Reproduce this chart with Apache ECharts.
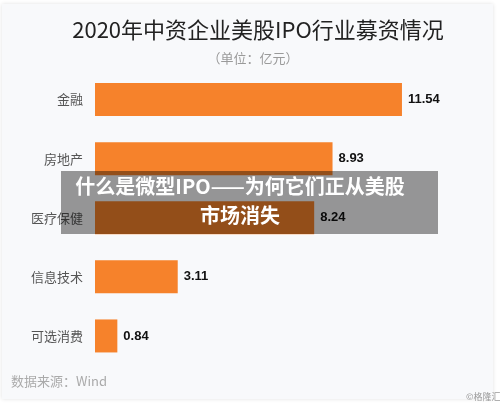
<!DOCTYPE html>
<html><head><meta charset="utf-8">
<script src="https://cdn.jsdelivr.net/npm/echarts@6/dist/echarts.min.js"></script>
<style>html,body{margin:0;padding:0;background:#fff}#c{width:500px;height:406px}</style>
</head><body><div id="c"></div>
<script>
const categories = ['金融', '房地产', '医疗保健', '信息技术', '可选消费'];
const values = [11.54, 8.93, 8.24, 3.11, 0.84];
const titleText = '2020年中资企业美股IPO行业募资情况';
const unitText = '（单位：亿元）';
const sourceText = '数据来源：Wind';
const bannerLines = ['什么是微型IPO——为何它们正从美股', '市场消失'];

const chart = echarts.init(document.getElementById('c'), null, {renderer: 'canvas'});
chart.setOption({
  backgroundColor: '#ffffff',
  animation: false,
  graphic: [
    {type: 'rect', z: -10, shape: {x: 2, y: 4, width: 491, height: 395},
     style: {fill: '#f8f9fb', shadowBlur: 4, shadowColor: 'rgba(0,0,0,0.12)'}},
    {type: 'text', x: 258, y: 30, z: 10,
     style: {text: titleText, font: '22px "Noto Sans CJK SC"', fill: '#222', align: 'center', verticalAlign: 'middle'}},
    {type: 'text', x: 253, y: 58, z: 10,
     style: {text: unitText, font: '13px "Noto Sans CJK SC"', fill: '#9a9a9a', align: 'center', verticalAlign: 'middle'}},
    {type: 'text', left: 11, top: 375, z: 10,
     style: {text: sourceText, font: '13px "Noto Sans CJK SC"', fill: '#aaaaaa'}},
    {type: 'text', left: 466, top: 392, z: 10,
     style: {text: '©格隆汇', font: '9px "Noto Sans CJK SC"', fill: '#999'}},
    {type: 'rect', z: 100, shape: {x: 61, y: 171, width: 377, height: 63},
     style: {fill: 'rgba(0,0,0,0.4)'}},
    {type: 'text', z: 101, x: 240, y: 186,
     style: {text: bannerLines[0], font: 'bold 20px "Noto Sans CJK SC"', fill: '#fff', align: 'center', verticalAlign: 'middle'}},
    {type: 'text', z: 101, x: 240, y: 215,
     style: {text: bannerLines[1], font: 'bold 20px "Noto Sans CJK SC"', fill: '#fff', align: 'center', verticalAlign: 'middle'}}
  ],
  grid: {left: 95, right: 32.6, top: 70, bottom: 40.5, containLabel: false},
  xAxis: {type: 'value', min: 0, max: 14, show: false},
  yAxis: {
    type: 'category', data: categories, inverse: true,
    axisLine: {show: false}, axisTick: {show: false},
    axisLabel: {margin: 12, fontSize: 13, color: '#555', fontFamily: '"Noto Sans CJK SC"'}
  },
  series: [{
    type: 'bar', data: values, barWidth: 33,
    itemStyle: {color: '#f6822b'},
    label: {show: true, position: 'right', distance: 6, fontSize: 13, fontWeight: 'bold',
            color: '#111', fontFamily: '"Liberation Sans", Arial, sans-serif',
            formatter: p => p.value.toFixed(2)}
  }]
});
</script></body></html>
